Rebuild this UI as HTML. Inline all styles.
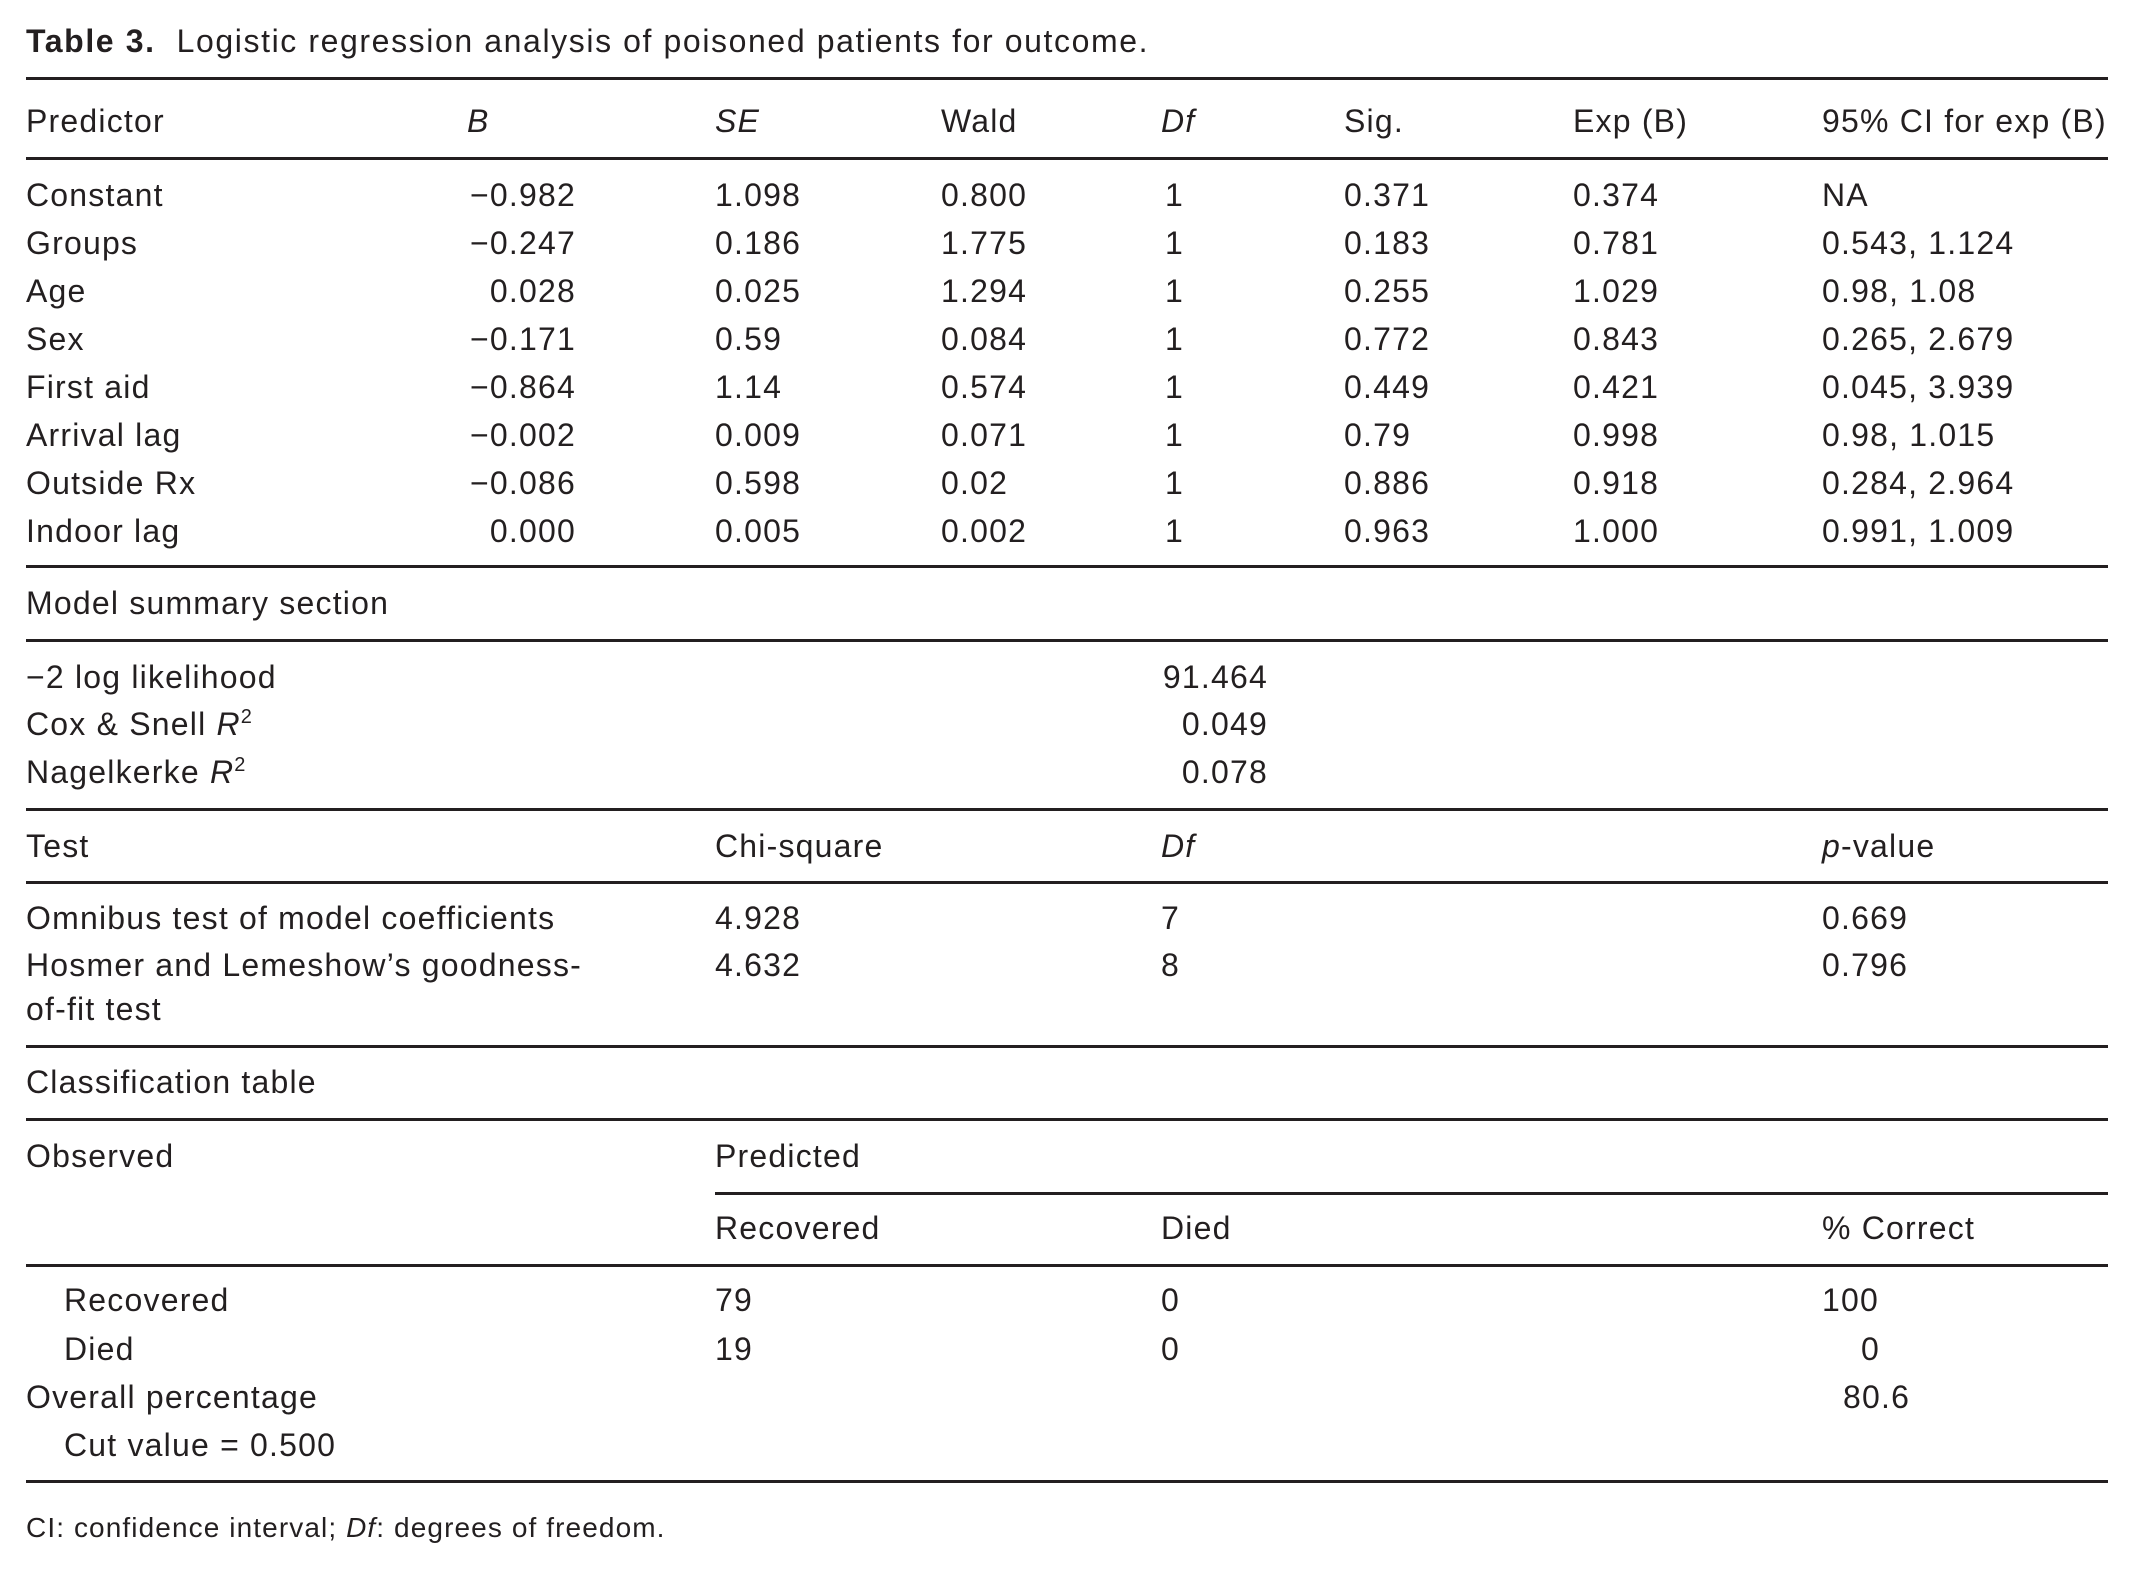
<!DOCTYPE html>
<html><head><meta charset="utf-8"><style>
html,body{margin:0;padding:0;background:#fff}
body{width:2135px;height:1573px;position:relative;overflow:hidden;font-family:"Liberation Sans",sans-serif;color:#231f20;font-size:32px;letter-spacing:1.2px}
.t{position:absolute;height:40px;line-height:40px;white-space:nowrap}
.r{position:absolute;height:40px;line-height:40px;white-space:nowrap;text-align:right}
.h{position:absolute;left:26px;width:2082px;height:3px;background:#231f20}
i{font-style:italic}
sup{font-size:20px;line-height:0;vertical-align:12px}
</style></head><body>
<div class="t" style="left:26px;top:21px;letter-spacing:1.6px"><b>Table 3.</b>&nbsp; Logistic regression analysis of poisoned patients for outcome.</div>
<div class="h" style="top:77px"></div>
<div class="t" style="left:26px;top:101px">Predictor</div>
<div class="t" style="left:467px;top:101px"><i>B</i></div>
<div class="t" style="left:715px;top:101px"><i>SE</i></div>
<div class="t" style="left:941px;top:101px">Wald</div>
<div class="t" style="left:1161px;top:101px"><i>Df</i></div>
<div class="t" style="left:1344px;top:101px">Sig.</div>
<div class="t" style="left:1573px;top:101px">Exp (B)</div>
<div class="t" style="left:1822px;top:101px">95% CI for exp (B)</div>
<div class="h" style="top:157px"></div>

<div class="t" style="left:26px;top:175px">Constant</div><div class="r" style="right:1559px;top:175px">−0.982</div><div class="t" style="left:715px;top:175px">1.098</div><div class="t" style="left:941px;top:175px">0.800</div><div class="t" style="left:1165px;top:175px">1</div><div class="t" style="left:1344px;top:175px">0.371</div><div class="t" style="left:1573px;top:175px">0.374</div><div class="t" style="left:1822px;top:175px">NA</div>
<div class="t" style="left:26px;top:223px">Groups</div><div class="r" style="right:1559px;top:223px">−0.247</div><div class="t" style="left:715px;top:223px">0.186</div><div class="t" style="left:941px;top:223px">1.775</div><div class="t" style="left:1165px;top:223px">1</div><div class="t" style="left:1344px;top:223px">0.183</div><div class="t" style="left:1573px;top:223px">0.781</div><div class="t" style="left:1822px;top:223px">0.543, 1.124</div>
<div class="t" style="left:26px;top:271px">Age</div><div class="r" style="right:1559px;top:271px">0.028</div><div class="t" style="left:715px;top:271px">0.025</div><div class="t" style="left:941px;top:271px">1.294</div><div class="t" style="left:1165px;top:271px">1</div><div class="t" style="left:1344px;top:271px">0.255</div><div class="t" style="left:1573px;top:271px">1.029</div><div class="t" style="left:1822px;top:271px">0.98, 1.08</div>
<div class="t" style="left:26px;top:319px">Sex</div><div class="r" style="right:1559px;top:319px">−0.171</div><div class="t" style="left:715px;top:319px">0.59</div><div class="t" style="left:941px;top:319px">0.084</div><div class="t" style="left:1165px;top:319px">1</div><div class="t" style="left:1344px;top:319px">0.772</div><div class="t" style="left:1573px;top:319px">0.843</div><div class="t" style="left:1822px;top:319px">0.265, 2.679</div>
<div class="t" style="left:26px;top:367px">First aid</div><div class="r" style="right:1559px;top:367px">−0.864</div><div class="t" style="left:715px;top:367px">1.14</div><div class="t" style="left:941px;top:367px">0.574</div><div class="t" style="left:1165px;top:367px">1</div><div class="t" style="left:1344px;top:367px">0.449</div><div class="t" style="left:1573px;top:367px">0.421</div><div class="t" style="left:1822px;top:367px">0.045, 3.939</div>
<div class="t" style="left:26px;top:415px">Arrival lag</div><div class="r" style="right:1559px;top:415px">−0.002</div><div class="t" style="left:715px;top:415px">0.009</div><div class="t" style="left:941px;top:415px">0.071</div><div class="t" style="left:1165px;top:415px">1</div><div class="t" style="left:1344px;top:415px">0.79</div><div class="t" style="left:1573px;top:415px">0.998</div><div class="t" style="left:1822px;top:415px">0.98, 1.015</div>
<div class="t" style="left:26px;top:463px">Outside Rx</div><div class="r" style="right:1559px;top:463px">−0.086</div><div class="t" style="left:715px;top:463px">0.598</div><div class="t" style="left:941px;top:463px">0.02</div><div class="t" style="left:1165px;top:463px">1</div><div class="t" style="left:1344px;top:463px">0.886</div><div class="t" style="left:1573px;top:463px">0.918</div><div class="t" style="left:1822px;top:463px">0.284, 2.964</div>
<div class="t" style="left:26px;top:511px">Indoor lag</div><div class="r" style="right:1559px;top:511px">0.000</div><div class="t" style="left:715px;top:511px">0.005</div><div class="t" style="left:941px;top:511px">0.002</div><div class="t" style="left:1165px;top:511px">1</div><div class="t" style="left:1344px;top:511px">0.963</div><div class="t" style="left:1573px;top:511px">1.000</div><div class="t" style="left:1822px;top:511px">0.991, 1.009</div>
<div class="h" style="top:565px"></div>
<div class="t" style="left:26px;top:583px">Model summary section</div>
<div class="h" style="top:639px"></div>
<div class="t" style="left:26px;top:657px">−2 log likelihood</div><div class="r" style="right:867px;top:657px">91.464</div>
<div class="t" style="left:26px;top:704px">Cox &amp; Snell <i>R</i><sup>2</sup></div><div class="r" style="right:867px;top:704px">0.049</div>
<div class="t" style="left:26px;top:752px">Nagelkerke <i>R</i><sup>2</sup></div><div class="r" style="right:867px;top:752px">0.078</div>
<div class="h" style="top:808px"></div>
<div class="t" style="left:26px;top:826px">Test</div><div class="t" style="left:715px;top:826px">Chi-square</div><div class="t" style="left:1161px;top:826px"><i>Df</i></div><div class="t" style="left:1822px;top:826px"><i>p</i>-value</div>
<div class="h" style="top:881px"></div>
<div class="t" style="left:26px;top:898px">Omnibus test of model coefficients</div><div class="t" style="left:715px;top:898px">4.928</div><div class="t" style="left:1161px;top:898px">7</div><div class="t" style="left:1822px;top:898px">0.669</div>
<div class="t" style="left:26px;top:945px">Hosmer and Lemeshow’s goodness-</div><div class="t" style="left:715px;top:945px">4.632</div><div class="t" style="left:1161px;top:945px">8</div><div class="t" style="left:1822px;top:945px">0.796</div>
<div class="t" style="left:26px;top:989px">of-fit test</div>
<div class="h" style="top:1045px"></div>
<div class="t" style="left:26px;top:1062px">Classification table</div>
<div class="h" style="top:1118px"></div>
<div class="t" style="left:26px;top:1136px">Observed</div><div class="t" style="left:715px;top:1136px">Predicted</div>
<div class="h" style="top:1192px;left:715px;width:1393px"></div>
<div class="t" style="left:715px;top:1208px">Recovered</div><div class="t" style="left:1161px;top:1208px">Died</div><div class="t" style="left:1822px;top:1208px">% Correct</div>
<div class="h" style="top:1264px"></div>
<div class="t" style="left:64px;top:1280px">Recovered</div><div class="t" style="left:715px;top:1280px">79</div><div class="t" style="left:1161px;top:1280px">0</div><div class="t" style="left:1822px;top:1280px">100</div>
<div class="t" style="left:64px;top:1329px">Died</div><div class="t" style="left:715px;top:1329px">19</div><div class="t" style="left:1161px;top:1329px">0</div><div class="t" style="left:1861px;top:1329px">0</div>
<div class="t" style="left:26px;top:1377px">Overall percentage</div><div class="t" style="left:1843px;top:1377px">80.6</div>
<div class="t" style="left:64px;top:1425px">Cut value = 0.500</div>
<div class="h" style="top:1480px"></div>
<div class="t" style="left:26px;top:1508px;font-size:28px;letter-spacing:1.1px">CI: confidence interval; <i>Df</i>: degrees of freedom.</div>
</body></html>
